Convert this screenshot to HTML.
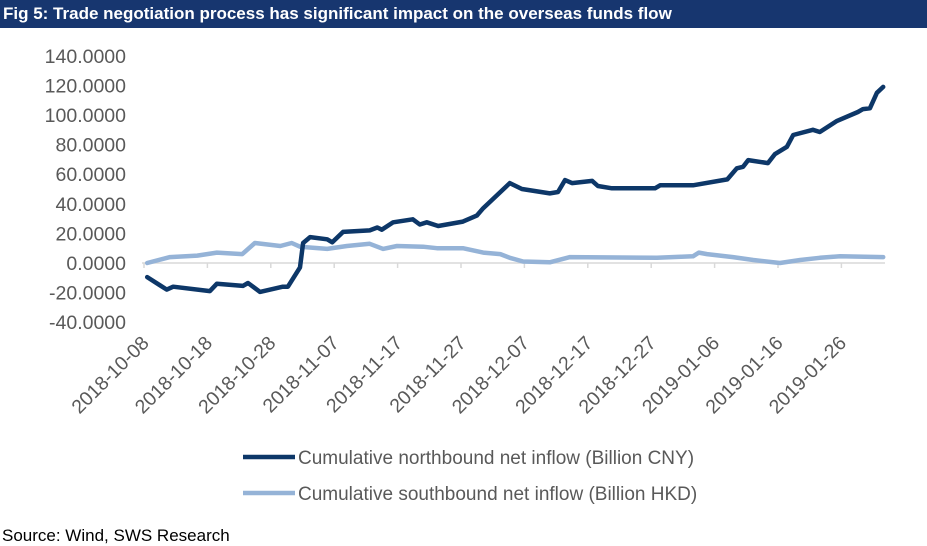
<!DOCTYPE html>
<html><head><meta charset="utf-8"><style>
html,body{margin:0;padding:0;background:#fff;}
body{width:927px;height:545px;position:relative;overflow:hidden;font-family:"Liberation Sans",sans-serif;}
#title{position:absolute;left:0;top:0;width:927px;height:28px;background:#17366f;color:#fff;font-weight:bold;font-size:17px;line-height:28px;padding-left:3px;box-sizing:border-box;}
#source{position:absolute;left:2px;top:526px;font-size:17px;color:#000;}
svg{position:absolute;left:0;top:0;}
</style></head><body>
<div id="title">Fig 5: Trade negotiation process has significant impact on the overseas funds flow</div>
<svg id="chart" width="927" height="545"></svg>
<div id="source">Source: Wind, SWS Research</div>
<script>
const yTicks=[-40,-20,0,20,40,60,80,100,120,140];
const xTickLabels=["2018-10-08","2018-10-18","2018-10-28","2018-11-07","2018-11-17","2018-11-27","2018-12-07","2018-12-17","2018-12-27","2019-01-06","2019-01-16","2019-01-26"];
const northDays=[0.5,2.5,3.6,4.6,10.4,11.5,15.6,16.4,18.3,21.9,22.7,24.6,25.1,26.2,28.9,29.7,31.4,35.6,36.8,37.5,39.3,42.4,43.5,44.6,46.4,50.3,52.5,53.5,57.7,59.6,64.0,65.3,66.4,67.5,70.7,71.6,73.8,80.6,81.4,86.6,92.0,93.5,94.5,95.3,98.4,99.5,101.4,102.4,105.5,106.6,109.3,112.6,113.4,114.5,115.6,116.6];
const northValues=[-9.5,-15,-18,-16,-19,-14,-15.5,-13.5,-19.5,-16,-16,-3,13.5,17.5,16,14,21,22,24,22.5,27.5,29.5,26,27.5,25,28,32,37,54,50,47,48,56,54,55.5,52,50.5,50.5,52.5,52.5,56.5,64,65,69.5,67.5,73.5,78.5,86.5,90,88.5,96,102,104,104.5,115,119];
const southDays=[0.5,4.1,8.4,11.5,15.5,17.5,21.5,23.3,24.6,28.9,32.0,35.6,37.7,39.9,44.0,46.2,50.3,53.5,56.2,57.7,59.8,64.0,67.2,80.9,86.6,87.5,88.8,92.9,96.1,100.3,103.5,106.6,109.8,116.6];
const southValues=[0,4,5,7,6,13.5,11.5,13.5,11,9.5,11.5,13,9.5,11.5,11,10,10,7,6,3.5,1,0.5,4,3.5,4.5,7,6,4,2,0,2,3.5,4.5,4];
const legendLabels=["Cumulative northbound net inflow (Billion CNY)","Cumulative southbound net inflow (Billion HKD)"];

const NS="http://www.w3.org/2000/svg";
const svg=document.getElementById('chart');
const x0=144,pxPerDay=6.34,axisEnd=885;
const y0=263,pxPerUnit=1.48;
function xs(d){return x0+d*pxPerDay;}
function ys(v){return y0-v*pxPerUnit;}
function mk(t,a){const e=document.createElementNS(NS,t);for(const k in a)e.setAttribute(k,a[k]);svg.appendChild(e);return e;}

yTicks.forEach(v=>{
  const t=mk('text',{x:126,y:ys(v)+7,'text-anchor':'end','font-size':19.5,fill:'#595959','font-family':'Liberation Sans, sans-serif'});
  t.textContent=v.toFixed(4);
  
  
});
const ax=mk('line',{x1:x0-2,y1:y0,x2:axisEnd,y2:y0,stroke:'#d9d9d9','stroke-width':1.5});


const labelY=ys(yTicks[0])+22;
xTickLabels.forEach((lab,i)=>{
  const x=xs(i*10);
  const tk=mk('line',{x1:x,y1:y0,x2:x,y2:y0+5,stroke:'#d9d9d9','stroke-width':1.5});
  
  
  const ax2=x+6;
  const t=mk('text',{x:ax2,y:labelY,'text-anchor':'end','font-size':19.5,fill:'#595959','font-family':'Liberation Sans, sans-serif',transform:`rotate(-45 ${ax2} ${labelY})`});
  t.textContent=lab;
  
  
});
function line(days,vals,color,name){
  const d=days.map((dd,i)=>(i?'L':'M')+xs(dd).toFixed(1)+','+ys(vals[i]).toFixed(1)).join(' ');
  const p=mk('path',{d:d,fill:'none',stroke:color,'stroke-width':4.5,'stroke-linejoin':'round','stroke-linecap':'round'});
  
  
}
line(southDays,southValues,'#95b3d7','southbound-line');
line(northDays,northValues,'#0d3768','northbound-line');

const legColors=['#0d3768','#95b3d7'];
legendLabels.forEach((lab,i)=>{
  const y=457+i*36;
  const l=mk('line',{x1:243,y1:y,x2:295,y2:y,stroke:legColors[i],'stroke-width':4.5});
  
  
  const t=mk('text',{x:298,y:y+7,'font-size':19,fill:'#595959','font-family':'Liberation Sans, sans-serif'});
  t.textContent=lab;
  
  
});
</script>
</body></html>
